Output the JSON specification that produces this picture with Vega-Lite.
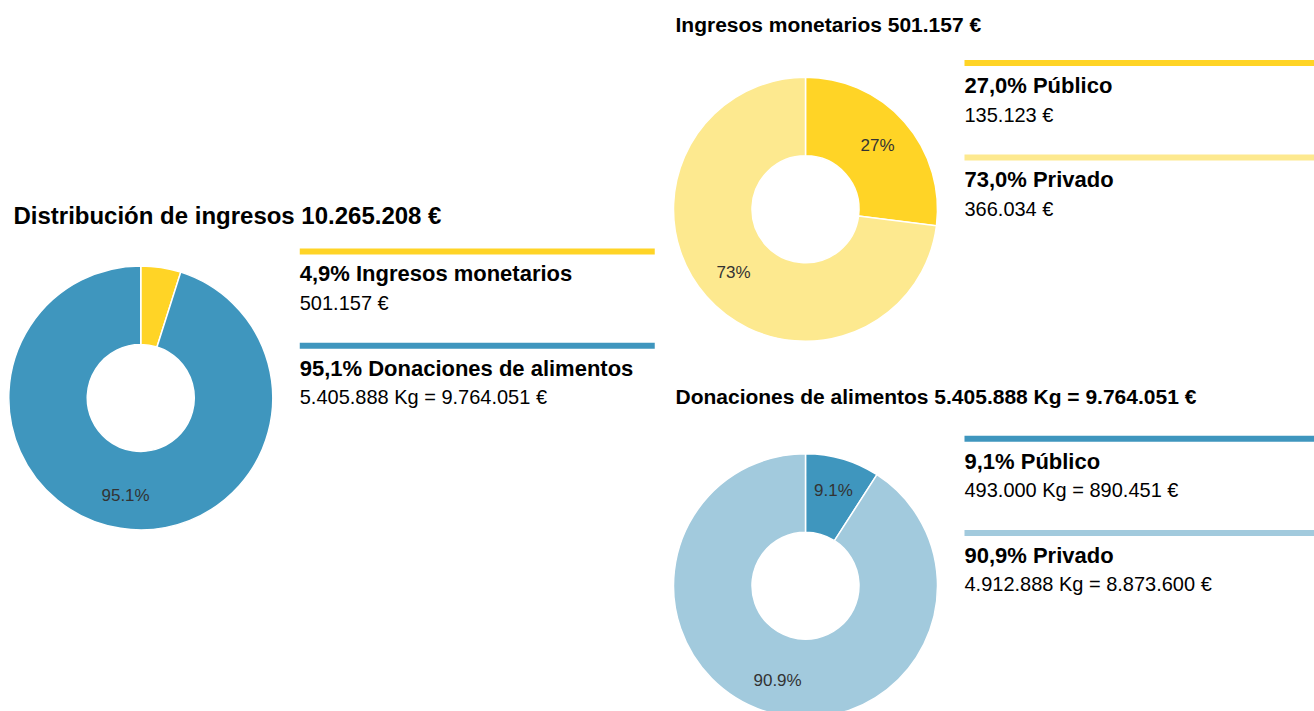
{
  "$schema": "https://vega.github.io/schema/vega-lite/v6.json",
  "padding": {"left": 5.5, "top": 14.9, "right": 0, "bottom": 0},
  "background": "white",
  "bounds": "full",
  "center": true,
  "spacing": 12,
  "datasets": {
    "d": [
      {"panel": "dist", "k": 1, "serie": "Distribución · Ingresos monetarios", "pct": 4.9, "label": "", "head": "4,9% Ingresos monetarios", "sub": "501.157 €"},
      {"panel": "dist", "k": 2, "serie": "Distribución · Donaciones de alimentos", "pct": 95.1, "label": "95.1%", "head": "95,1% Donaciones de alimentos", "sub": "5.405.888 Kg = 9.764.051 €"},
      {"panel": "mon", "k": 1, "serie": "Ingresos monetarios · Público", "pct": 27.0, "label": "27%", "head": "27,0% Público", "sub": "135.123 €"},
      {"panel": "mon", "k": 2, "serie": "Ingresos monetarios · Privado", "pct": 73.0, "label": "73%", "head": "73,0% Privado", "sub": "366.034 €"},
      {"panel": "don", "k": 1, "serie": "Donaciones de alimentos · Público", "pct": 9.1, "label": "9.1%", "head": "9,1% Público", "sub": "493.000 Kg = 890.451 €"},
      {"panel": "don", "k": 2, "serie": "Donaciones de alimentos · Privado", "pct": 90.9, "label": "90.9%", "head": "90,9% Privado", "sub": "4.912.888 Kg = 8.873.600 €"}
    ]
  },
  "hconcat": [
    {
      "title": {"text": "Distribución de ingresos 10.265.208 €", "offset": 18.5},
      "bounds": "flush",
      "spacing": 31.25,
      "hconcat": [
        {
          "width": 254.5, "height": 301,
          "data": {"name": "d"},
          "transform": [{"filter": "datum.panel === 'dist'"}],
          "encoding": {
            "theta": {"field": "pct", "type": "quantitative", "stack": true, "scale": {"domain": [0, 100]}},
            "order": {"field": "k", "type": "quantitative"},
            "color": {"field": "serie", "type": "nominal", "legend": null, "scale": {"domain": ["Distribución · Ingresos monetarios", "Distribución · Donaciones de alimentos", "Ingresos monetarios · Público", "Ingresos monetarios · Privado", "Donaciones de alimentos · Público", "Donaciones de alimentos · Privado"], "range": ["#FFD426", "#3F96BE", "#FFD426", "#FDE98F", "#3F96BE", "#A2CADD"]}}
          },
          "layer": [
            {"mark": {"type": "arc", "innerRadius": 53.5, "outerRadius": 132, "stroke": "#ffffff", "strokeWidth": 1.5}},
            {"mark": {"type": "text", "radius": 99, "font": "Liberation Sans", "fontSize": 17}, "encoding": {"text": {"field": "label"}, "color": {"value": "#333333"}}}
          ]
        },
        {
          "width": 355, "height": 301,
          "data": {"name": "d"},
          "transform": [{"filter": "datum.panel === 'dist'"}],
          "encoding": {"y": {"field": "k", "type": "quantitative", "axis": null, "scale": {"domain": [1, 2], "range": [4, 98.3], "nice": false, "zero": false}}},
          "layer": [
            {"mark": {"type": "rule", "strokeWidth": 6}, "encoding": {"color": {"field": "serie", "type": "nominal", "legend": null, "scale": {"domain": ["Distribución · Ingresos monetarios", "Distribución · Donaciones de alimentos", "Ingresos monetarios · Público", "Ingresos monetarios · Privado", "Donaciones de alimentos · Público", "Donaciones de alimentos · Privado"], "range": ["#FFD426", "#3F96BE", "#FFD426", "#FDE98F", "#3F96BE", "#A2CADD"]}}}},
            {"mark": {"type": "text", "align": "left", "baseline": "alphabetic", "dy": 30, "font": "Liberation Sans", "fontSize": 22, "fontWeight": "bold", "color": "#000000"}, "encoding": {"x": {"datum": 0, "type": "quantitative", "axis": null, "scale": {"domain": [0, 1]}}, "text": {"field": "head"}}},
            {"mark": {"type": "text", "align": "left", "baseline": "alphabetic", "dy": 58.5, "font": "Liberation Sans", "fontSize": 20, "color": "#000000"}, "encoding": {"x": {"datum": 0, "type": "quantitative", "axis": null, "scale": {"domain": [0, 1]}}, "text": {"field": "sub"}}}
          ]
        }
      ]
    },
    {
      "bounds": "full",
      "spacing": 25.6,
      "vconcat": [
        {
          "title": {"text": "Ingresos monetarios 501.157 €", "offset": 22.6, "fontSize": 21},
          "bounds": "flush",
          "spacing": 29,
          "hconcat": [
            {
              "width": 260, "height": 300.4,
              "data": {"name": "d"},
              "transform": [{"filter": "datum.panel === 'mon'"}],
              "encoding": {
                "theta": {"field": "pct", "type": "quantitative", "stack": true, "scale": {"domain": [0, 100]}},
                "order": {"field": "k", "type": "quantitative"},
                "color": {"field": "serie", "type": "nominal", "legend": null, "scale": {"domain": ["Distribución · Ingresos monetarios", "Distribución · Donaciones de alimentos", "Ingresos monetarios · Público", "Ingresos monetarios · Privado", "Donaciones de alimentos · Público", "Donaciones de alimentos · Privado"], "range": ["#FFD426", "#3F96BE", "#FFD426", "#FDE98F", "#3F96BE", "#A2CADD"]}}
              },
              "layer": [
                {"mark": {"type": "arc", "innerRadius": 53.5, "outerRadius": 132, "stroke": "#ffffff", "strokeWidth": 1.5}},
                {"mark": {"type": "text", "radius": 96, "font": "Liberation Sans", "fontSize": 17}, "encoding": {"text": {"field": "label"}, "color": {"value": "#333333"}}}
              ]
            },
            {
              "width": 350, "height": 300.4,
              "data": {"name": "d"},
              "transform": [{"filter": "datum.panel === 'mon'"}],
              "encoding": {"y": {"field": "k", "type": "quantitative", "axis": null, "scale": {"domain": [1, 2], "range": [4, 98.3], "nice": false, "zero": false}}},
              "layer": [
                {"mark": {"type": "rule", "strokeWidth": 6}, "encoding": {"color": {"field": "serie", "type": "nominal", "legend": null, "scale": {"domain": ["Distribución · Ingresos monetarios", "Distribución · Donaciones de alimentos", "Ingresos monetarios · Público", "Ingresos monetarios · Privado", "Donaciones de alimentos · Público", "Donaciones de alimentos · Privado"], "range": ["#FFD426", "#3F96BE", "#FFD426", "#FDE98F", "#3F96BE", "#A2CADD"]}}}},
                {"mark": {"type": "text", "align": "left", "baseline": "alphabetic", "dy": 30, "font": "Liberation Sans", "fontSize": 22, "fontWeight": "bold", "color": "#000000"}, "encoding": {"x": {"datum": 0, "type": "quantitative", "axis": null, "scale": {"domain": [0, 1]}}, "text": {"field": "head"}}},
                {"mark": {"type": "text", "align": "left", "baseline": "alphabetic", "dy": 58.5, "font": "Liberation Sans", "fontSize": 20, "color": "#000000"}, "encoding": {"x": {"datum": 0, "type": "quantitative", "axis": null, "scale": {"domain": [0, 1]}}, "text": {"field": "sub"}}}
              ]
            }
          ]
        },
        {
          "title": {"text": "Donaciones de alimentos 5.405.888 Kg = 9.764.051 €", "offset": 27.1, "fontSize": 21},
          "bounds": "flush",
          "spacing": 29,
          "hconcat": [
            {
              "width": 260, "height": 302,
              "data": {"name": "d"},
              "transform": [{"filter": "datum.panel === 'don'"}],
              "encoding": {
                "theta": {"field": "pct", "type": "quantitative", "stack": true, "scale": {"domain": [0, 100]}},
                "order": {"field": "k", "type": "quantitative"},
                "color": {"field": "serie", "type": "nominal", "legend": null, "scale": {"domain": ["Distribución · Ingresos monetarios", "Distribución · Donaciones de alimentos", "Ingresos monetarios · Público", "Ingresos monetarios · Privado", "Donaciones de alimentos · Público", "Donaciones de alimentos · Privado"], "range": ["#FFD426", "#3F96BE", "#FFD426", "#FDE98F", "#3F96BE", "#A2CADD"]}}
              },
              "layer": [
                {"mark": {"type": "arc", "innerRadius": 53.5, "outerRadius": 132, "stroke": "#ffffff", "strokeWidth": 1.5}},
                {"mark": {"type": "text", "radius": 99, "font": "Liberation Sans", "fontSize": 17}, "encoding": {"text": {"field": "label"}, "color": {"value": "#333333"}}}
              ]
            },
            {
              "width": 350, "height": 300.6,
              "data": {"name": "d"},
              "transform": [{"filter": "datum.panel === 'don'"}],
              "encoding": {"y": {"field": "k", "type": "quantitative", "axis": null, "scale": {"domain": [1, 2], "range": [4, 98.3], "nice": false, "zero": false}}},
              "layer": [
                {"mark": {"type": "rule", "strokeWidth": 6}, "encoding": {"color": {"field": "serie", "type": "nominal", "legend": null, "scale": {"domain": ["Distribución · Ingresos monetarios", "Distribución · Donaciones de alimentos", "Ingresos monetarios · Público", "Ingresos monetarios · Privado", "Donaciones de alimentos · Público", "Donaciones de alimentos · Privado"], "range": ["#FFD426", "#3F96BE", "#FFD426", "#FDE98F", "#3F96BE", "#A2CADD"]}}}},
                {"mark": {"type": "text", "align": "left", "baseline": "alphabetic", "dy": 30, "font": "Liberation Sans", "fontSize": 22, "fontWeight": "bold", "color": "#000000"}, "encoding": {"x": {"datum": 0, "type": "quantitative", "axis": null, "scale": {"domain": [0, 1]}}, "text": {"field": "head"}}},
                {"mark": {"type": "text", "align": "left", "baseline": "alphabetic", "dy": 58.5, "font": "Liberation Sans", "fontSize": 20, "color": "#000000"}, "encoding": {"x": {"datum": 0, "type": "quantitative", "axis": null, "scale": {"domain": [0, 1]}}, "text": {"field": "sub"}}}
              ]
            }
          ]
        }
      ]
    }
  ],
  "config": {
    "view": {"stroke": null},
    "title": {"anchor": "start", "frame": "group", "orient": "top", "baseline": "alphabetic", "font": "Liberation Sans", "fontSize": 24, "fontWeight": "bold", "color": "#000000"}
  }
}
